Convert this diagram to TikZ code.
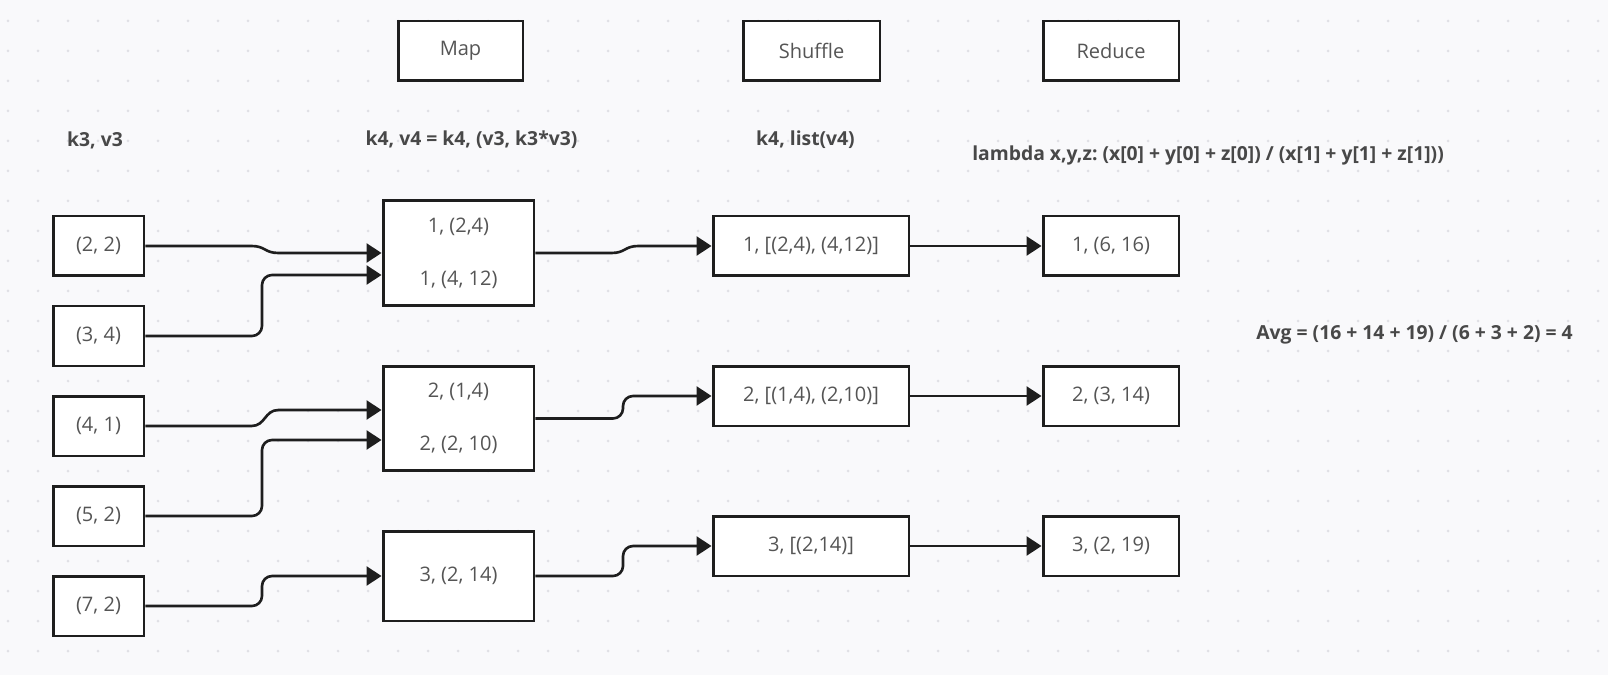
\documentclass[tikz,border=0pt]{standalone}
\usepackage{fontspec}
\setmainfont{Open Sans}
\usetikzlibrary{arrows.meta,calc}
\definecolor{paper}{HTML}{F9F9FB}
\definecolor{griddot}{HTML}{E0E0E5}
\definecolor{ink}{HTML}{1E1E1E}
\definecolor{boxtext}{HTML}{555555}
\definecolor{headtext}{HTML}{484848}

\begin{document}
\begin{tikzpicture}[x=0.02cm, y=-0.02cm,
        box/.style={draw=ink, line width=1.7pt, fill=white, text=boxtext, inner sep=0pt,
            minimum height=1.2cm, align=center, font=\fontsize{11.4}{14}\selectfont},
        caption/.style={text=headtext, inner sep=0pt, font=\frenchspacing\bfseries\fontsize{11}{14}\selectfont},
        flow/.style={draw=ink, line width=1.5pt, -{Triangle[length=0.3cm, width=0.38cm]}}]
        \fill [paper] (0,0) rectangle (1608,675);
        \foreach \i in {0,...,53}
            \foreach \j in {0,...,21}
                \fill [griddot] (8+30*\i, 21+30*\j) circle (0.03cm);

        \node [box, minimum width=2.5cm] (map) at (460.5,51) {Map};
        \node [box, minimum width=2.74cm] (shuffle) at (811.5,51) {Shuffle};
        \node [box, minimum width=2.72cm] (reduce) at (1111,51) {Reduce};

        \node [caption] (kv3) at (95,140) {k3, v3};
        \node [caption] (kv4) at (471.5,140) {k4, v4 = k4, (v3, k3*v3)};
        \node [caption] (klist) at (805.5,140) {k4, list(v4)};
        \node [caption] (lambda) at (1208,155) {lambda x,y,z: (x[0] + y[0] + z[0]) / (x[1] + y[1] + z[1]))};
        \node [caption] (avg) at (1414.5,335) {Avg = (16 + 14 + 19) / (6 + 3 + 2) = 4};

        \node [box, minimum width=1.82cm] (in1) at (98.5,246) {(2, 2)};
        \node [box, minimum width=1.82cm] (in2) at (98.5,336) {(3, 4)};
        \node [box, minimum width=1.82cm] (in3) at (98.5,426) {(4, 1)};
        \node [box, minimum width=1.82cm] (in4) at (98.5,516) {(5, 2)};
        \node [box, minimum width=1.82cm] (in5) at (98.5,606) {(7, 2)};

        \node [box, minimum width=3.02cm, minimum height=2.12cm] (map1) at (458.5,253)
            {1, (2,4)\\[0.57cm]1, (4, 12)};
        \node [box, minimum width=3.02cm, minimum height=2.1cm] (map2) at (458.5,418.5)
            {2, (1,4)\\[0.57cm]2, (2, 10)};
        \node [box, minimum width=3.02cm, minimum height=1.8cm] (map3) at (458.5,576) {3, (2, 14)};

        \node [box, minimum width=3.92cm] (sh1) at (811,246) {1, [(2,4), (4,12)]};
        \node [box, minimum width=3.92cm] (sh2) at (811,396) {2, [(1,4), (2,10)]};
        \node [box, minimum width=3.92cm] (sh3) at (811,546) {3, [(2,14)]};

        \node [box, minimum width=2.72cm] (red1) at (1111,246) {1, (6, 16)};
        \node [box, minimum width=2.72cm] (red2) at (1111,396) {2, (3, 14)};
        \node [box, minimum width=2.72cm] (red3) at (1111,546) {3, (2, 19)};

        \draw [flow] (in1.east) -- ++(106,0) .. controls +(14,0) and +(-14,0) .. ++(27,7) -- (map1.west);
        \draw [flow, rounded corners=0.2cm] (in2.east) -| (262,275) -- ($(map1.west)+(0,22)$);
        \draw [flow] (in3.east) -- ++(106,0) .. controls +(14,0) and +(-14,0) .. ++(27,-16) -- ($(map2.west)+(0,-8.5)$);
        \draw [flow, rounded corners=0.2cm] (in4.east) -| (262,440) -- ($(map2.west)+(0,21.5)$);
        \draw [flow, rounded corners=0.2cm] (in5.east) -| (262,576) -- (map3.west);

        \draw [flow] (map1.east) -- ++(76,0) .. controls +(14,0) and +(-14,0) .. ++(27,-7) -- (sh1.west);
        \draw [flow, rounded corners=0.2cm] (map2.east) -| (623,396) -- (sh2.west);
        \draw [flow, rounded corners=0.2cm] (map3.east) -| (623,546) -- (sh3.west);

        \draw [flow] (sh1.east) -- (red1.west);
        \draw [flow] (sh2.east) -- (red2.west);
        \draw [flow] (sh3.east) -- (red3.west);
    \end{tikzpicture}
\end{document}
